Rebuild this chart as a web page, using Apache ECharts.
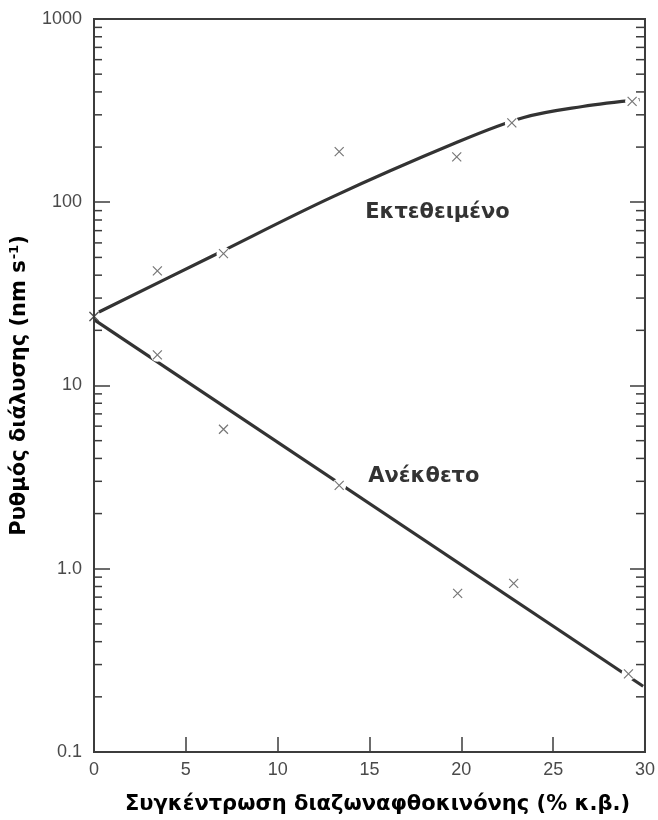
<!DOCTYPE html>
<html>
<head>
<meta charset="utf-8">
<script src="https://cdn.jsdelivr.net/npm/echarts@6/dist/echarts.min.js"></script>
<style>
html,body{margin:0;padding:0;background:#fff;}
#chart{width:658px;height:820px;}
</style>
</head>
<body>
<div id="chart"></div>
<script>
// ---- data ----
const xTicks = [0, 5, 10, 15, 20, 25, 30];
const yTickLabels = ['0.1', '1.0', '10', '100', '1000'];
const minorTickValues = [0.2,0.3,0.4,0.5,0.6,0.7,0.8,0.9,
  2,3,4,5,6,7,8,9, 20,30,40,50,60,70,80,90, 200,300,400,500,600,700,800,900];

// Exposed (Εκτεθειμένο) measured points
const exposedX = [0, 3.45, 7.05, 13.35, 19.75, 22.75, 29.3];
const exposedY = [23.8, 42.2, 52.4, 189, 177, 271, 355];
// Exposed fitted curve
const exposedFitX = [0.27, 6.45, 12.9, 19.7, 23.4, 26.6, 29.7];
const exposedFitY = [25.2, 50.9, 106, 211, 290, 333, 363];

// Unexposed (Ανέκθετο) measured points
const unexposedX = [0, 3.45, 7.05, 13.35, 19.8, 22.85, 29.1];
const unexposedY = [23.8, 14.7, 5.77, 2.85, 0.734, 0.832, 0.267];
// Unexposed fitted straight line (log scale)
const unexposedFitX = [0, 29.9];
const unexposedFitY = [22.9, 0.2285];

// Curve labels
const labelNames = ['Εκτεθειμένο', 'Ανέκθετο'];
const labelX = [18.7, 17.96];
const labelY = [88.3, 3.2];

const xTitle = 'Συγκέντρωση διαζωναφθοκινόνης (% κ.β.)';
const yTitleMain = 'Ρυθμός διάλυσης (nm s';
const yTitleSup = '-1';

// ---- chart ----
const zip = (a, b) => a.map((v, i) => [v, b[i]]);
const AX = '#3c3c3c';
const LINE = '#333333';
const MARK = '#555555';
const crossPath = 'path://M0,0L10,10M10,0L0,10';

const chart = echarts.init(document.getElementById('chart'), null, {renderer: 'canvas'});

const option = {
  animation: false,
  backgroundColor: '#ffffff',
  grid: {left: 93, right: 7, top: 19, bottom: 65, show: true, borderColor: AX, borderWidth: 2, backgroundColor: 'transparent'},
  xAxis: {
    type: 'value', min: xTicks[0], max: xTicks[xTicks.length - 1], interval: 5,
    axisLine: {show: true, lineStyle: {color: AX, width: 2}},
    axisTick: {show: true, inside: true, length: 15, lineStyle: {color: AX, width: 1.5}},
    axisLabel: {color: '#4a4a4a', fontSize: 18, fontFamily: 'Liberation Sans', margin: 9},
    splitLine: {show: false},
    name: xTitle, nameLocation: 'middle', nameGap: 42,
    nameTextStyle: {color: '#000', fontSize: 21, fontWeight: 'bold', fontFamily: 'DejaVu Sans', padding: [0, 0, 0, 16]}
  },
  yAxis: [{
    type: 'log', logBase: 10, min: 0.1, max: 1000,
    axisLine: {show: true, lineStyle: {color: AX, width: 2}},
    axisTick: {show: true, inside: true, length: 16, lineStyle: {color: AX, width: 1.5}},
    axisLabel: {color: '#4a4a4a', fontSize: 18, fontFamily: 'Liberation Sans', margin: 12,
      formatter: v => yTickLabels[Math.round(Math.log10(v)) + 1]},
    splitLine: {show: false},
    minorTick: {show: false},
    name: '{a|' + yTitleMain + '}{b|' + yTitleSup + '}{a|)}',
    nameLocation: 'middle', nameRotate: 90, nameGap: 62,
    nameTextStyle: {
      rich: {
        a: {color: '#000', fontSize: 21, fontWeight: 'bold', fontFamily: 'DejaVu Sans', lineHeight: 24},
        b: {color: '#000', fontSize: 13, fontWeight: 'bold', fontFamily: 'DejaVu Sans', verticalAlign: 'top', lineHeight: 24, padding: [0, 0, 10, 1]}
      }
    },
    z: 5
  }, {
    type: 'log', logBase: 10, min: 0.1, max: 1000, position: 'right',
    axisLine: {show: true, lineStyle: {color: AX, width: 2}},
    axisTick: {show: true, inside: true, length: 15, lineStyle: {color: AX, width: 1.5}},
    axisLabel: {show: false},
    splitLine: {show: false}
  }],
  series: [
    {
      type: 'custom', name: 'minorTicks', silent: true, z: 1,
      data: minorTickValues.map(v => [0, v]),
      renderItem: (params, api) => {
        const v = api.value(1);
        const l = api.coord([0, v]);
        const r = api.coord([30, v]);
        const st = {stroke: AX, lineWidth: 1.5};
        return {type: 'group', children: [
          {type: 'line', shape: {x1: l[0], y1: l[1], x2: l[0] + 8, y2: l[1]}, style: st},
          {type: 'line', shape: {x1: r[0] - 9, y1: r[1], x2: r[0], y2: r[1]}, style: st}
        ]};
      }
    },
    {
      type: 'line', name: 'exposedFit', data: zip(exposedFitX, exposedFitY),
      smooth: 0.35, showSymbol: false, symbol: 'none',
      lineStyle: {color: LINE, width: 3.2}, z: 2
    },
    {
      type: 'line', name: 'unexposedFit', data: zip(unexposedFitX, unexposedFitY),
      showSymbol: false, symbol: 'none',
      lineStyle: {color: LINE, width: 3.2}, z: 2
    },
    {
      // white halo that breaks the lines around the markers
      type: 'scatter', name: 'gaps', silent: true, z: 3,
      data: zip(exposedX, exposedY).slice(1).concat(zip(unexposedX, unexposedY).slice(1)),
      symbol: 'circle', symbolSize: 14,
      itemStyle: {color: '#ffffff', opacity: 1}
    },
    {
      type: 'scatter', name: 'Εκτεθειμένο', z: 4,
      data: zip(exposedX, exposedY),
      symbol: crossPath, symbolSize: 9,
      itemStyle: {color: 'none', borderColor: MARK, borderWidth: 1.2}
    },
    {
      type: 'scatter', name: 'Ανέκθετο', z: 4,
      data: zip(unexposedX, unexposedY),
      symbol: crossPath, symbolSize: 9,
      itemStyle: {color: 'none', borderColor: MARK, borderWidth: 1.2}
    },
    {
      type: 'scatter', name: 'labels', silent: true, z: 6,
      data: labelNames.map((n, i) => ({name: n, value: [labelX[i], labelY[i]]})),
      symbolSize: 0,
      label: {show: true, position: [0, 0], align: 'center', verticalAlign: 'middle',
        formatter: p => p.name, color: '#000', fontSize: 21, fontWeight: 'bold', fontFamily: 'DejaVu Sans'}
    }
  ]
};
chart.setOption(option);
</script>
</body>
</html>
